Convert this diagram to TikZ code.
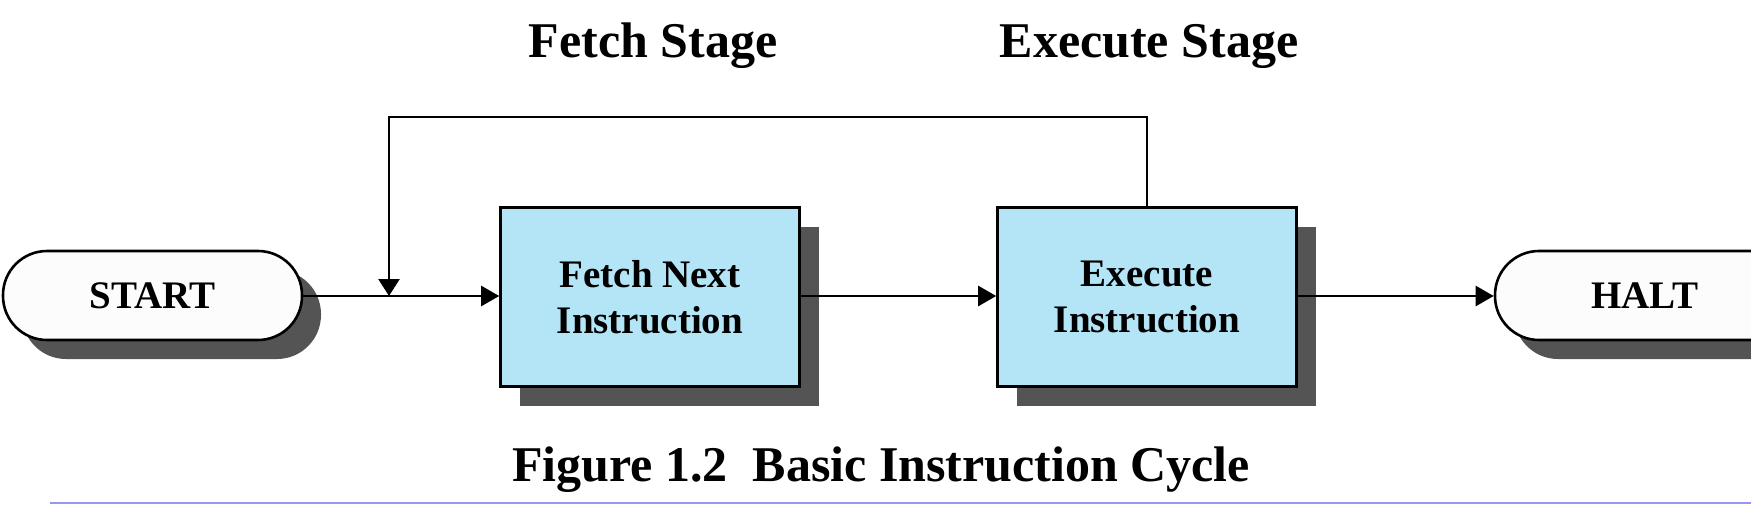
\documentclass[tikz,border=0pt]{standalone}
\usepackage{fontspec}
\setmainfont{Liberation Serif}
\usetikzlibrary{arrows.meta,shadows}
\definecolor{boxblue}{RGB}{179,229,247}
\definecolor{shadowgray}{RGB}{84,84,84}
\definecolor{pillwhite}{RGB}{252,252,252}
\definecolor{ruleblue}{RGB}{150,150,245}
\tikzset{
  shade20/.style={drop shadow={shadow xshift=19pt,shadow yshift=-19pt,fill=shadowgray,opacity=1}},
  pill/.style={draw=black,line width=2.6pt,fill=pillwhite,rounded corners=44pt,
    minimum width=299pt,minimum height=89pt,inner sep=0pt,shade20,
    font=\bfseries\fontsize{39}{46}\selectfont},
  stepbox/.style={draw=black,line width=2.6pt,fill=boxblue,
    minimum width=299pt,minimum height=179pt,inner sep=0pt,shade20,align=center,
    font=\bfseries\fontsize{39}{46}\selectfont},
  title/.style={anchor=base,inner sep=0pt,font=\bfseries\fontsize{50}{58}\selectfont},
  conn/.style={line width=2.6pt,-{Triangle[length=18pt,width=20pt]}},
}
\begin{document}
\begin{tikzpicture}[x=1pt,y=-1pt]
\useasboundingbox (0,0) rectangle (1751,515);
\node[title] (ft) at (653,57) {Fetch Stage};
\node[title] (et) at (1149,57) {Execute Stage};
\node[pill] (start) at (152.5,295.5) {START\hspace{12pt}};
\node[stepbox] (fetch) at (650,297) {Fetch Next\\Instruction};
\node[stepbox] (exec) at (1147,297) {Execute\\Instruction};
\node[pill] (halt) at (1644.5,295.5) {HALT\hspace{12pt}};
\coordinate (join) at (389,296);
\coordinate (top) at (389,117);
\draw[conn] (start.east |- join) -- (fetch.west |- join);
\draw[line width=2.6pt,-{Triangle[length=17pt,width=21pt]}] (exec.north) |- (top) -- (join);
\draw[conn] (fetch.east |- join) -- (exec.west |- join);
\draw[conn] (exec.east |- join) -- (halt.west |- join);
\node[title] (cap) at (881,481) {Figure 1.2\hspace{0.5em}Basic Instruction Cycle};
\coordinate (rl) at (50,503);
\coordinate (rr) at (1751,503);
\draw[ruleblue,line width=2pt] (rl) -- (rr);
\end{tikzpicture}
\end{document}
